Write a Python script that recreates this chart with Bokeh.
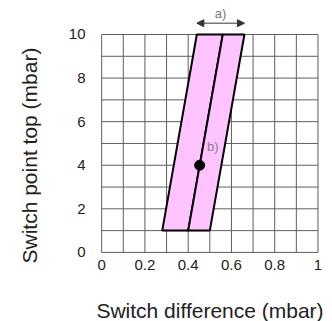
from bokeh.plotting import figure
from bokeh.models import FixedTicker, Range1d, Arrow, NormalHead, Label, Title
from bokeh.embed import file_html
from bokeh.resources import INLINE
import numpy as np

# Data
x_ticks = [0, 0.2, 0.4, 0.6, 0.8, 1.0]
x_tick_labels = ["0", "0.2", "0.4", "0.6", "0.8", "1"]
y_ticks = [0, 2, 4, 6, 8, 10]
band_x_bottom = [0.28, 0.40, 0.50]   # left edge, middle line, right edge at y=1
band_x_top = [0.44, 0.56, 0.66]      # left edge, middle line, right edge at y=10
band_y_bottom = 1
band_y_top = 10
point_x = [0.453]
point_y = [4]
arrow_range = [0.44, 0.66]
grid_x = [round(v, 1) for v in np.arange(0, 1.01, 0.1)]
grid_y = list(range(0, 11))

FONT = "Liberation Sans"

p = figure(frame_width=221, frame_height=253,
           x_range=Range1d(-0.01, 1.0117), y_range=Range1d(-0.05, 11.56),
           output_backend="svg", toolbar_location=None,
           min_border_left=99, min_border_right=12, min_border_top=0, min_border_bottom=68)
p.outline_line_color = None
p.xgrid.visible = False
p.ygrid.visible = False
p.background_fill_color = "white"

# grid
GRID = "#5f5f5f"
p.segment(x0=grid_x, y0=[0]*len(grid_x), x1=grid_x, y1=[10]*len(grid_x), line_color=GRID, line_width=1)
p.segment(x0=[0]*len(grid_y), y0=grid_y, x1=[1]*len(grid_y), y1=grid_y, line_color=GRID, line_width=1)

PINK = "#ffc4ff"
left_xs = [band_x_bottom[0], band_x_bottom[1], band_x_top[1], band_x_top[0]]
right_xs = [band_x_bottom[1], band_x_bottom[2], band_x_top[2], band_x_top[1]]
ys = [band_y_bottom, band_y_bottom, band_y_top, band_y_top]
p.patch(left_xs, ys, fill_color=PINK, line_color="black", line_width=2)
p.patch(right_xs, ys, fill_color=PINK, line_color="black", line_width=2)

p.scatter(point_x, point_y, size=10, color="black")

p.add_layout(Arrow(start=NormalHead(size=7, fill_color="#333333", line_color="#333333"),
                   end=NormalHead(size=7, fill_color="#333333", line_color="#333333"),
                   x_start=arrow_range[0], y_start=10.52, x_end=arrow_range[1], y_end=10.52,
                   line_color="#333333", line_width=1))
p.add_layout(Label(x=(arrow_range[0] + arrow_range[1]) / 2, y=10.62, text="a)",
                   text_font=FONT, text_font_size="13px", text_color="#777777",
                   text_align="center", text_baseline="bottom"))
p.add_layout(Label(x=0.487, y=4.86, text="b)",
                   text_font=FONT, text_font_size="13px", text_color="#8c7596",
                   text_align="left", text_baseline="middle"))

for ax in (p.xaxis[0], p.yaxis[0]):
    ax.axis_line_color = None
    ax.major_tick_line_color = None
    ax.minor_tick_line_color = None
    ax.major_label_text_font = FONT
    ax.major_label_text_font_size = "15px"
    ax.major_label_text_color = "#222222"
    ax.axis_label_text_font = FONT
    ax.axis_label_text_font_size = "21px"
    ax.axis_label_text_font_style = "normal"
    ax.axis_label_text_color = "#222222"

p.xaxis.ticker = FixedTicker(ticks=x_ticks)
p.xaxis.major_label_overrides = {t: l for t, l in zip(x_ticks, x_tick_labels)}
p.yaxis.ticker = FixedTicker(ticks=y_ticks)
p.xaxis.major_label_standoff = 0
p.yaxis.major_label_standoff = 8
p.xaxis.axis_label = "Switch difference (mbar)"
p.xaxis.axis_label_standoff = 26

# spacer between the y tick labels and the y axis title
p.add_layout(Title(text=" ", standoff=8, text_font_size="1px"), "left")
# y axis title, starting near the bottom of the frame
p.add_layout(Title(text="Switch point top (mbar)", align="left", offset=-10, standoff=28,
                   text_font=FONT, text_font_size="21px", text_font_style="normal",
                   text_color="#222222"), "left")

open("out.html", "w").write(file_html(p, INLINE))
